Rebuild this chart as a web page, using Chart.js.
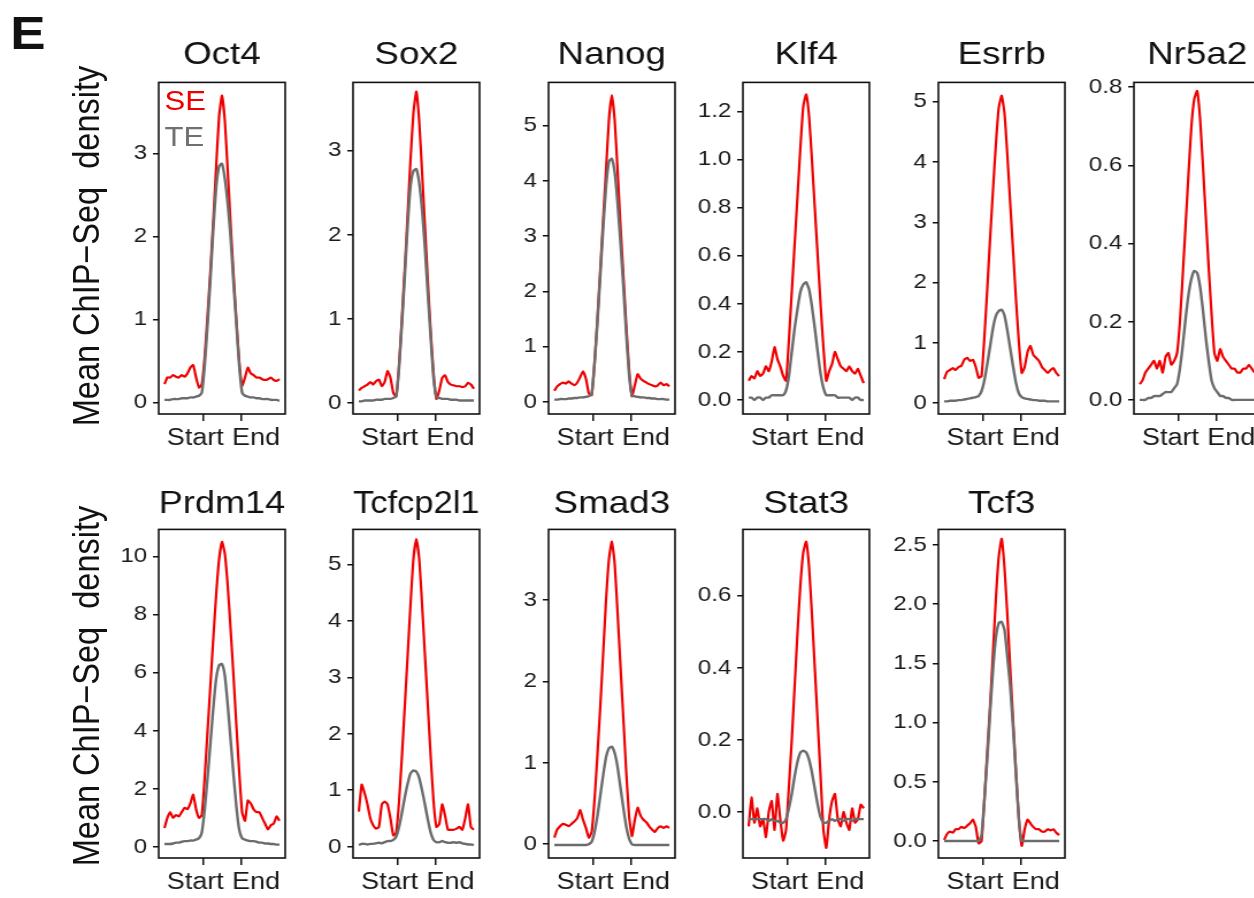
<!DOCTYPE html>
<html>
<head>
<meta charset="utf-8">
<script src="https://cdn.jsdelivr.net/npm/chart.js@4.4.1/dist/chart.umd.min.js"></script>
<style>
  html, body { margin: 0; padding: 0; background: #fff; overflow: hidden; }
  body { width: 1254px; height: 898px; position: relative; }
  /* the source figure is stretched sideways, so the whole stage is too */
  #stage { position: absolute; left: 0; top: 0; width: 1091px; height: 898px;
           transform: scaleX(1.15); transform-origin: 0 0; }
  #stage canvas { position: absolute; }
  .lbl { position: absolute; font-family: 'Liberation Sans', Arial, sans-serif;
         white-space: pre; line-height: 1; }
  .ylab { font-size: 32.5px; color: #111; transform: translate(-50%, -50%) rotate(-90deg); }
</style>
</head>
<body>
<div id="stage">
  <div class="lbl" style="left:9px; top:10px; font-size:46px; font-weight:bold; color:#111;">E</div>
  <div class="lbl ylab" style="left:75px; top:246px;">Mean ChIP−Seq  density</div>
  <div class="lbl ylab" style="left:75px; top:686px;">Mean ChIP−Seq  density</div>
  <div class="lbl" style="left:143px; top:88px; font-size:27px; color:#ee0000;">SE</div>
  <div class="lbl" style="left:143px; top:124px; font-size:27px; color:#707070;">TE</div>
</div>
<script>
// x positions: 41 bins, region start at 100 and end at 200
const N_BINS = 41;
const X_STEP = 7.5;
const xTickValues = [100, 200];
// padded so the two words sit apart, as in the figure
const xTickLabels = ['Start  ', '    End'];
const seriesNames = ['SE', 'TE'];

// values, left flank / peak / right flank
const oct4SE = [0.22, 0.30, 0.30, 0.33, 0.31, 0.30, 0.33, 0.31, 0.35, 0.42, 0.45, 0.30, 0.18,
  0.22, 0.55, 1.05, 1.60, 2.20, 2.85, 3.45, 3.70, 3.40, 2.80, 2.15, 1.55, 1.00, 0.50, 0.20,
  0.30, 0.42, 0.35, 0.33, 0.30, 0.30, 0.28, 0.27, 0.28, 0.30, 0.27, 0.26, 0.28];
const oct4TE = [0.03, 0.03, 0.03, 0.04, 0.04, 0.04, 0.05, 0.05, 0.05, 0.06, 0.06, 0.07, 0.08,
  0.12, 0.45, 0.95, 1.50, 2.10, 2.60, 2.85, 2.88, 2.70, 2.40, 2.00, 1.45, 0.95, 0.45, 0.12,
  0.08, 0.07, 0.06, 0.06, 0.05, 0.05, 0.04, 0.04, 0.04, 0.03, 0.03, 0.03, 0.02];

const sox2SE = [0.15, 0.18, 0.20, 0.22, 0.25, 0.22, 0.26, 0.28, 0.20, 0.25, 0.38, 0.30, 0.12,
  0.08, 0.45, 1.00, 1.60, 2.25, 2.90, 3.45, 3.70, 3.35, 2.75, 2.10, 1.45, 0.85, 0.35, 0.05,
  0.15, 0.30, 0.33, 0.25, 0.22, 0.21, 0.20, 0.20, 0.19, 0.20, 0.24, 0.22, 0.17];
const sox2TE = [0.02, 0.02, 0.03, 0.03, 0.03, 0.03, 0.04, 0.04, 0.04, 0.05, 0.05, 0.05, 0.06,
  0.08, 0.42, 0.95, 1.52, 2.12, 2.58, 2.76, 2.78, 2.62, 2.30, 1.85, 1.30, 0.78, 0.30, 0.07,
  0.06, 0.05, 0.05, 0.05, 0.04, 0.04, 0.04, 0.03, 0.03, 0.03, 0.03, 0.03, 0.03];

const nanogSE = [0.20, 0.28, 0.32, 0.35, 0.33, 0.37, 0.33, 0.30, 0.35, 0.45, 0.55, 0.42, 0.15,
  0.12, 0.70, 1.50, 2.40, 3.30, 4.20, 5.10, 5.55, 5.10, 4.20, 3.20, 2.30, 1.40, 0.60, 0.10,
  0.30, 0.50, 0.42, 0.38, 0.35, 0.32, 0.30, 0.28, 0.30, 0.35, 0.30, 0.32, 0.28];
const nanogTE = [0.04, 0.04, 0.05, 0.05, 0.05, 0.06, 0.06, 0.07, 0.07, 0.08, 0.08, 0.09, 0.10,
  0.15, 0.70, 1.45, 2.30, 3.15, 3.90, 4.35, 4.40, 4.15, 3.60, 2.90, 2.10, 1.25, 0.50, 0.12,
  0.10, 0.09, 0.08, 0.08, 0.07, 0.07, 0.06, 0.06, 0.05, 0.05, 0.05, 0.04, 0.04];

const klf4SE = [0.08, 0.10, 0.09, 0.12, 0.10, 0.11, 0.14, 0.12, 0.16, 0.22, 0.17, 0.14, 0.10,
  0.08, 0.25, 0.45, 0.65, 0.85, 1.05, 1.22, 1.27, 1.18, 1.00, 0.80, 0.60, 0.40, 0.22, 0.08,
  0.12, 0.15, 0.20, 0.17, 0.14, 0.13, 0.12, 0.14, 0.12, 0.11, 0.13, 0.10, 0.07];
const klf4TE = [0.01, 0.01, 0.00, 0.01, 0.01, 0.00, 0.01, 0.01, 0.02, 0.02, 0.02, 0.02, 0.02,
  0.04, 0.10, 0.20, 0.30, 0.38, 0.45, 0.48, 0.49, 0.46, 0.39, 0.30, 0.20, 0.11, 0.05, 0.02,
  0.02, 0.02, 0.02, 0.01, 0.01, 0.01, 0.01, 0.01, 0.00, 0.01, 0.01, 0.00, 0.00];

const esrrbSE = [0.40, 0.52, 0.55, 0.58, 0.55, 0.60, 0.62, 0.72, 0.75, 0.70, 0.72, 0.60, 0.42,
  0.45, 1.10, 1.90, 2.75, 3.55, 4.30, 4.90, 5.10, 4.80, 4.10, 3.30, 2.50, 1.70, 1.00, 0.50,
  0.60, 0.85, 0.95, 0.80, 0.75, 0.70, 0.60, 0.55, 0.50, 0.55, 0.58, 0.50, 0.45];
const esrrbTE = [0.03, 0.03, 0.04, 0.04, 0.04, 0.05, 0.05, 0.06, 0.07, 0.08, 0.09, 0.10, 0.12,
  0.20, 0.38, 0.65, 0.95, 1.25, 1.45, 1.53, 1.55, 1.45, 1.20, 0.90, 0.60, 0.33, 0.16, 0.10,
  0.08, 0.07, 0.06, 0.05, 0.05, 0.04, 0.04, 0.04, 0.03, 0.03, 0.03, 0.03, 0.03];

const nr5a2SE = [0.04, 0.05, 0.07, 0.08, 0.09, 0.10, 0.08, 0.10, 0.07, 0.11, 0.12, 0.09, 0.10,
  0.12, 0.20, 0.32, 0.45, 0.58, 0.70, 0.77, 0.79, 0.72, 0.60, 0.47, 0.34, 0.22, 0.12, 0.10,
  0.13, 0.11, 0.10, 0.09, 0.08, 0.08, 0.07, 0.07, 0.08, 0.08, 0.09, 0.08, 0.07];
const nr5a2TE = [0.000, 0.000, 0.000, 0.005, 0.005, 0.010, 0.010, 0.010, 0.015, 0.020, 0.020, 0.020, 0.030,
  0.040, 0.080, 0.140, 0.210, 0.270, 0.310, 0.330, 0.325, 0.290, 0.230, 0.160, 0.100, 0.050, 0.030, 0.020,
  0.010, 0.010, 0.005, 0.005, 0.000, 0.000, 0.000, 0.000, 0.000, 0.000, 0.000, 0.000, 0.000];

const prdm14SE = [0.65, 1.00, 1.20, 1.00, 1.10, 1.05, 1.20, 1.35, 1.30, 1.50, 1.80, 1.30, 1.00,
  1.10, 2.40, 4.00, 5.60, 7.20, 8.70, 9.90, 10.50, 10.10, 9.00, 7.50, 5.90, 4.20, 2.60, 1.20,
  0.90, 1.60, 1.50, 1.30, 1.20, 1.20, 1.00, 0.80, 0.60, 0.75, 0.80, 1.05, 0.90];
const prdm14TE = [0.10, 0.10, 0.10, 0.12, 0.15, 0.15, 0.18, 0.20, 0.20, 0.22, 0.22, 0.25, 0.30,
  0.50, 1.30, 2.40, 3.60, 4.80, 5.80, 6.25, 6.30, 5.90, 4.90, 3.70, 2.50, 1.40, 0.60, 0.30,
  0.25, 0.22, 0.20, 0.20, 0.18, 0.15, 0.15, 0.12, 0.12, 0.10, 0.10, 0.08, 0.08];

const tcfcp2l1SE = [0.62, 1.10, 0.95, 0.75, 0.50, 0.38, 0.32, 0.35, 0.75, 0.80, 0.75, 0.50, 0.20,
  0.25, 0.80, 1.60, 2.50, 3.40, 4.30, 5.10, 5.45, 5.10, 4.30, 3.40, 2.50, 1.60, 0.80, 0.35,
  0.40, 0.75, 0.55, 0.30, 0.30, 0.30, 0.32, 0.35, 0.30, 0.50, 0.75, 0.35, 0.30];
const tcfcp2l1TE = [0.03, 0.05, 0.05, 0.04, 0.05, 0.05, 0.06, 0.07, 0.06, 0.08, 0.10, 0.10, 0.12,
  0.18, 0.35, 0.60, 0.88, 1.12, 1.30, 1.35, 1.33, 1.22, 1.00, 0.75, 0.48, 0.25, 0.12, 0.08,
  0.08, 0.10, 0.08, 0.07, 0.07, 0.08, 0.07, 0.08, 0.06, 0.05, 0.04, 0.04, 0.03];

const smad3SE = [0.08, 0.18, 0.22, 0.25, 0.24, 0.22, 0.25, 0.28, 0.32, 0.42, 0.30, 0.20, 0.08,
  0.15, 0.55, 1.10, 1.70, 2.35, 3.00, 3.50, 3.72, 3.45, 2.85, 2.20, 1.55, 0.90, 0.35, 0.10,
  0.30, 0.45, 0.35, 0.30, 0.27, 0.22, 0.18, 0.15, 0.20, 0.22, 0.20, 0.22, 0.20];
const smad3TE = [-0.01, -0.01, -0.01, -0.01, -0.01, -0.01, -0.01, -0.01, -0.01, -0.01, -0.01, -0.01, 0.00,
  0.03, 0.15, 0.35, 0.60, 0.85, 1.07, 1.18, 1.20, 1.12, 0.95, 0.70, 0.45, 0.22, 0.07, 0.00,
  -0.01, -0.01, -0.01, -0.01, -0.01, -0.01, -0.01, -0.01, -0.01, -0.01, -0.01, -0.01, -0.01];

const stat3SE = [-0.04, 0.04, -0.03, 0.01, -0.04, -0.02, -0.07, 0.00, 0.03, -0.05, 0.05, -0.02, -0.08,
  -0.05, 0.07, 0.20, 0.35, 0.50, 0.63, 0.72, 0.75, 0.68, 0.55, 0.40, 0.25, 0.10, -0.05, -0.10,
  -0.02, 0.03, 0.05, -0.02, -0.04, 0.00, -0.03, -0.05, 0.01, -0.03, -0.02, 0.02, 0.01];
const stat3TE = [-0.020, -0.020, -0.020, -0.020, -0.020, -0.020, -0.020, -0.025, -0.020, -0.025, -0.025, -0.030, -0.030,
  -0.020, 0.010, 0.050, 0.100, 0.140, 0.165, 0.170, 0.165, 0.145, 0.110, 0.065, 0.020, -0.015, -0.030, -0.030,
  -0.025, -0.020, -0.025, -0.020, -0.020, -0.025, -0.020, -0.020, -0.025, -0.020, -0.020, -0.020, -0.020];

const tcf3SE = [0.01, 0.06, 0.08, 0.07, 0.10, 0.10, 0.12, 0.11, 0.13, 0.15, 0.18, 0.12, -0.02,
  0.00, 0.35, 0.75, 1.15, 1.60, 2.05, 2.40, 2.55, 2.30, 1.90, 1.45, 1.00, 0.58, 0.18, -0.04,
  0.10, 0.18, 0.15, 0.12, 0.10, 0.10, 0.08, 0.08, 0.10, 0.09, 0.10, 0.07, 0.05];
const tcf3TE = [0.00, 0.00, 0.00, 0.00, 0.00, 0.00, 0.00, 0.00, 0.00, 0.00, 0.00, 0.00, 0.00,
  0.05, 0.35, 0.70, 1.10, 1.45, 1.72, 1.84, 1.85, 1.78, 1.55, 1.30, 0.95, 0.55, 0.18, 0.00,
  0.00, 0.00, 0.00, 0.00, 0.00, 0.00, 0.00, 0.00, 0.00, 0.00, 0.00, 0.00, 0.00];

const panelTitles = ['Oct4', 'Sox2', 'Nanog', 'Klf4', 'Esrrb', 'Nr5a2',
                     'Prdm14', 'Tcfcp2l1', 'Smad3', 'Stat3', 'Tcf3'];
const panelSE = [oct4SE, sox2SE, nanogSE, klf4SE, esrrbSE, nr5a2SE,
                 prdm14SE, tcfcp2l1SE, smad3SE, stat3SE, tcf3SE];
const panelTE = [oct4TE, sox2TE, nanogTE, klf4TE, esrrbTE, nr5a2TE,
                 prdm14TE, tcfcp2l1TE, smad3TE, stat3TE, tcf3TE];
const yTickValues = [[0, 1, 2, 3], [0, 1, 2, 3], [0, 1, 2, 3, 4, 5],
  [0, 0.2, 0.4, 0.6, 0.8, 1.0, 1.2], [0, 1, 2, 3, 4, 5], [0, 0.2, 0.4, 0.6, 0.8],
  [0, 2, 4, 6, 8, 10], [0, 1, 2, 3, 4, 5], [0, 1, 2, 3], [0, 0.2, 0.4, 0.6],
  [0, 0.5, 1.0, 1.5, 2.0, 2.5]];
const yRanges = [[-0.14, 3.86], [-0.13, 3.81], [-0.22, 5.78], [-0.058, 1.32], [-0.18, 5.32],
  [-0.036, 0.812], [-0.38, 10.93], [-0.2, 5.62], [-0.17, 3.87], [-0.128, 0.784], [-0.143, 2.63]];
const yDecimals = [0, 0, 0, 1, 0, 1, 0, 0, 0, 1, 1];

// layout (screen px of the plot boxes; stage is stretched by S)
const S = 1.15;
const colBoxLeft = [159, 353, 549, 743, 938, 1134];
const BOX_W = 126;
const YW = 48;      // y axis width
const RP = 20;      // right room for wide titles
const XH = 40;      // x axis height
const rows = [
  { top: 0,   height: 460, titlePad: { top: 36, bottom: 8 }, padBottom: 6 },
  { top: 462, height: 436, titlePad: { top: 23, bottom: 6 }, padBottom: 0 }
];
const FONT = "'Liberation Sans', Arial, sans-serif";
const RED = '#ee0000';
const GREY = '#6c6c6c';

// draws the closed panel frame around the chart area
const boxFrame = {
  id: 'boxFrame',
  afterDraw(chart) {
    const { ctx, chartArea: a } = chart;
    ctx.save();
    ctx.strokeStyle = '#111';
    ctx.lineWidth = 1.6;
    ctx.strokeRect(a.left, a.top, a.right - a.left, a.bottom - a.top);
    ctx.restore();
  }
};

function toPoints(values) {
  return values.map((y, i) => ({ x: i * X_STEP, y: y }));
}

function drawPanel(p) {
  const row = rows[p < 6 ? 0 : 1];
  const col = p < 6 ? p : p - 6;
  const canvas = document.createElement('canvas');
  const w = Math.round(YW + BOX_W / S + RP);
  canvas.width = w;
  canvas.height = row.height;
  canvas.style.left = (colBoxLeft[col] / S - YW) + 'px';
  canvas.style.top = row.top + 'px';
  document.getElementById('stage').appendChild(canvas);

  const dec = yDecimals[p];
  new Chart(canvas.getContext('2d'), {
    type: 'line',
    data: {
      datasets: [
        { label: seriesNames[0], data: toPoints(panelSE[p]), borderColor: RED,
          borderWidth: 2.2, pointRadius: 0, tension: 0.15, order: 1 },
        { label: seriesNames[1], data: toPoints(panelTE[p]), borderColor: GREY,
          borderWidth: 2.4, pointRadius: 0, tension: 0.15, order: 0 }
      ]
    },
    options: {
      responsive: false,
      animation: false,
      layout: { padding: { left: 0, right: RP, top: 0, bottom: row.padBottom } },
      plugins: {
        legend: { display: false },
        tooltip: { enabled: false },
        title: {
          display: true, text: panelTitles[p], fullSize: false, color: '#111',
          font: { family: FONT, size: 32, weight: 'normal' }, padding: row.titlePad
        }
      },
      scales: {
        x: {
          type: 'linear', min: -15, max: (N_BINS - 1) * X_STEP + 15,
          afterBuildTicks: (s) => { s.ticks = xTickValues.map(v => ({ value: v })); },
          afterFit: (s) => { s.height = XH; },
          ticks: {
            callback: (v, i) => xTickLabels[i],
            font: { family: FONT, size: 23.5 }, color: '#1a1a1a',
            padding: 3, maxRotation: 0, autoSkip: false
          },
          grid: { drawOnChartArea: false, drawTicks: true, tickLength: 7,
                  color: '#111', lineWidth: 1.5 },
          border: { display: false }
        },
        y: {
          min: yRanges[p][0], max: yRanges[p][1],
          afterBuildTicks: (s) => { s.ticks = yTickValues[p].map(v => ({ value: v })); },
          afterFit: (s) => { s.width = YW; },
          ticks: {
            callback: (v) => Number(v).toFixed(dec),
            font: { family: FONT, size: 21 }, color: '#1a1a1a', padding: 5
          },
          grid: { drawOnChartArea: false, drawTicks: true, tickLength: 5,
                  color: '#111', lineWidth: 1.5 },
          border: { display: false }
        }
      }
    },
    plugins: [boxFrame]
  });
}

for (let p = 0; p < panelTitles.length; p++) {
  drawPanel(p);
}
</script>
</body>
</html>
